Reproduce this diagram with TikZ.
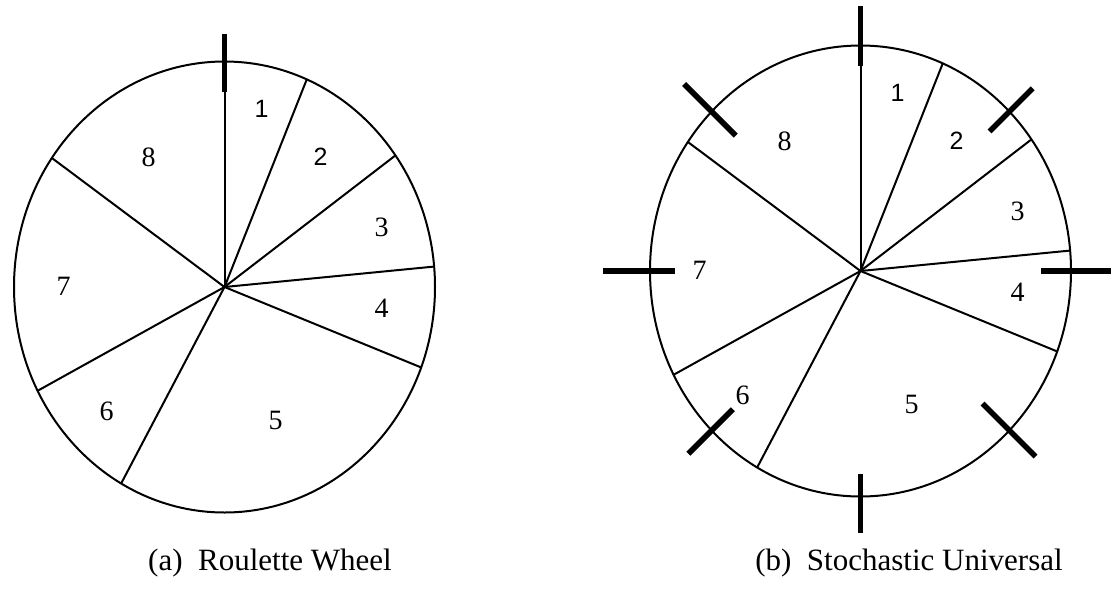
\documentclass[tikz,border=0pt]{standalone}
\usepackage{fontspec}
\setmainfont{Liberation Serif}
\newfontfamily\digitsans{Liberation Sans}
\usetikzlibrary{calc}

\begin{document}
\begin{tikzpicture}[x=1pt, y=-1pt, line width=2pt, font=\fontsize{28}{32}\selectfont,
	pointer/.style={line width=5.5pt},
	seriflabel/.style={},
	sanslabel/.style={font=\fontsize{25}{29}\digitsans},
	caption/.style={font=\fontsize{31}{36}\selectfont}]
	\useasboundingbox (0,0) rectangle (1111,592);
	% hubs of the two wheels (y runs down, so angles go clockwise from east)
	\coordinate (hubA) at (224.5,287);
	\coordinate (hubB) at (860.5,271);
	% rim and spokes, same sectors on both wheels
	\foreach \hub in {hubA, hubB} {
		\draw (\hub) ellipse [x radius=210.5, y radius=225.5];
		\foreach \t in {-90, -67, -35.7, -5.2, 20.9, 119.4, 152.6, 214.9}
			\draw (\hub) -- ++(\t:210.5 and 225.5);
	}
	% sector numbers
	\foreach \hub/\w in {hubA/a, hubB/b}
		\foreach \n/\dx/\dy/\s in {1/37/-178/sanslabel, 2/96/-130/sanslabel, 3/157/-60/seriflabel, 4/157/21/seriflabel,
			5/51/133/seriflabel, 6/-118/124/seriflabel, 7/-161/-1/seriflabel, 8/-76/-130/seriflabel}
			\node[\s] (\w\n) at ($(\hub)+(\dx,\dy)$) {\n};
	% single pointer of the roulette wheel
	\draw[pointer] ($(hubA)+(0,-253)$) -- ($(hubA)+(0,-195)$);
	% eight equally spaced pointers: angle / inside rim / outside rim
	\begin{scope}[shift={(hubB)}]
		\foreach \t/\i/\o in {-90/20/40, -45/28/33, 0/30/45, 45/38/37, 90/23/36, 135/30/33, 180/25/47, 225/34/39}
			\draw[pointer] (\t:{210.5-\i} and {225.5-\i}) -- (\t:{210.5+\o} and {225.5+\o});
	\end{scope}
	% captions
	\node[caption] (capA) at (270,563) {(a)~~Roulette Wheel};
	\node[caption] (capB) at (909,563) {(b)~~Stochastic Universal};
\end{tikzpicture}
\end{document}
